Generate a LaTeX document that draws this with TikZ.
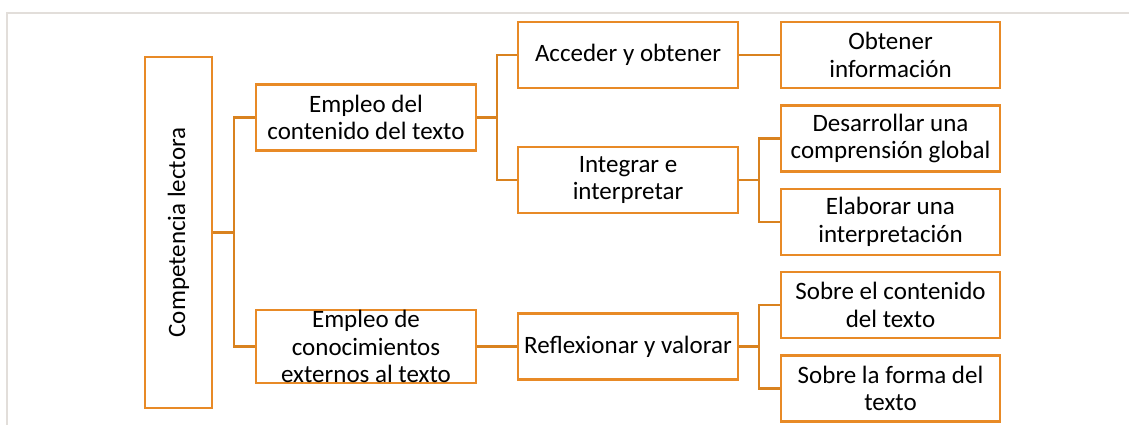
\documentclass[tikz,border=0pt]{standalone}
\usepackage{fontspec}
\setmainfont{Carlito}
\definecolor{boxor}{HTML}{E88A26}
\definecolor{lineor}{HTML}{D9821F}
\definecolor{framegray}{HTML}{E2DEDA}
\begin{document}
\begin{tikzpicture}[x=1pt,y=-1pt,
  box/.style={draw=boxor,line width=2.4pt,inner sep=0pt,align=center,
    minimum width=220pt,minimum height=66pt,
    font=\fontsize{25}{27.5}\selectfont},
  conn/.style={draw=lineor,line width=2.4pt}]
\useasboundingbox (0,0) rectangle (1129,425);
\draw[framegray,line width=2pt] (7,425) -- (7,13) -- (1129,13);
% nodes
\node[box,minimum width=67pt,minimum height=351pt] (comp) at (178.5,232.5)
  {\rotatebox{90}{Competencia lectora}};
\node[box] (e1) at (366,117.5) {Empleo del\\contenido del texto};
\node[box] (e2) at (366,346.5) {Empleo de\\conocimientos\\externos al texto};
\node[box] (a1) at (628,55) {Acceder y obtener};
\node[box] (a2) at (628,180) {Integrar e\\interpretar};
\node[box] (a3) at (628,346.5) {Reflexionar y valorar};
\node[box,minimum width=219pt] (b1) at (890.5,55) {Obtener\\información};
\node[box,minimum width=219pt] (b2) at (890.5,138.5) {Desarrollar una\\comprensión global};
\node[box,minimum width=219pt] (b3) at (890.5,222) {Elaborar una\\interpretación};
\node[box,minimum width=219pt] (b4) at (890.5,305) {Sobre el contenido\\del texto};
\node[box,minimum width=219pt] (b5) at (890.5,388.5) {Sobre la forma del\\texto};
% junctions
\coordinate (j1) at (234,232.5);
\coordinate (j2) at (497,117.5);
\coordinate (j3) at (759,180);
\coordinate (j4) at (759,346.5);
% connectors
\draw[conn] (comp.east) -- (j1);
\draw[conn] (e1.west) -- (e1.west -| j1) -- (e2.west -| j1) -- (e2.west);
\draw[conn] (e1.east) -- (j2);
\draw[conn] (a1.west) -- (a1.west -| j2) -- (a2.west -| j2) -- (a2.west);
\draw[conn] (a1.east) -- (b1.west);
\draw[conn] (e2.east) -- (a3.west);
\draw[conn] (a2.east) -- (j3);
\draw[conn] (b2.west) -- (b2.west -| j3) -- (b3.west -| j3) -- (b3.west);
\draw[conn] (a3.east) -- (j4);
\draw[conn] (b4.west) -- (b4.west -| j4) -- (b5.west -| j4) -- (b5.west);
\end{tikzpicture}
\end{document}
